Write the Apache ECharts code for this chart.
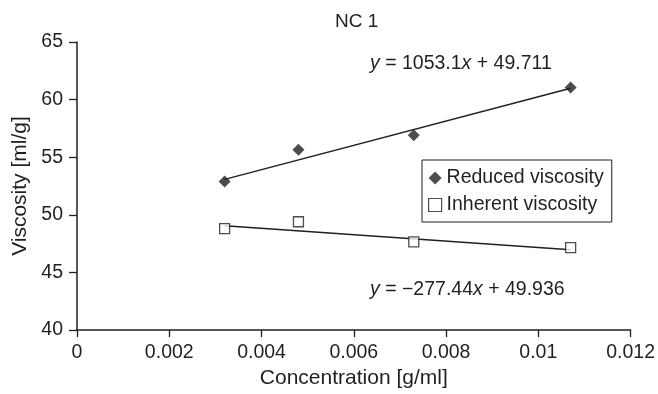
<!DOCTYPE html>
<html><head><meta charset="utf-8">
<script src="https://cdn.jsdelivr.net/npm/echarts@6/dist/echarts.min.js"></script>
<style>html,body{margin:0;padding:0;background:#fff}#c{width:658px;height:394px}</style>
</head><body><div id="c"></div>
<script>
const concentration = [0.0032, 0.0048, 0.0073, 0.0107];
const reducedViscosity = [52.9, 55.65, 56.9, 61.05];
const inherentViscosity = [48.8, 49.4, 47.65, 47.15];
const reducedTrend = [[0.0032, 53.08], [0.0107, 60.98]];
const inherentTrend = [[0.0032, 49.05], [0.0107, 46.97]];
const xTicks = [0, 0.002, 0.004, 0.006, 0.008, 0.01, 0.012];
const yTicks = [40, 45, 50, 55, 60, 65];
const eqReduced = ['1053.1', '49.711'];
const eqInherent = ['\u2212277.44', '49.936'];

const ink = '#231f20';
const font = '"Liberation Sans", Arial, Helvetica, sans-serif';
const chart = echarts.init(document.getElementById('c'));
const pair = (xs, ys) => xs.map((x, i) => [x, ys[i]]);
const eqText = (c) => '{i|y} = ' + c[0] + '{i|x} + ' + c[1];
const eqStyle = { fontSize: 19.5, fontFamily: font, fill: ink, rich: { i: { fontStyle: 'italic', fontSize: 19.5, fontFamily: font, fill: ink } } };

chart.setOption({
  backgroundColor: '#fff',
  animation: false,
  textStyle: { fontFamily: font, color: ink },
  title: { text: 'NC 1', left: 335, top: 12, padding: 0, textStyle: { fontSize: 19, fontWeight: 'normal', color: ink, fontFamily: font } },
  grid: { left: 77, right: 27, top: 42, bottom: 62 },
  legend: {
    orient: 'vertical', left: 422, top: 160,
    padding: [8, 8, 7, 6], itemGap: 7, itemWidth: 13, itemHeight: 13,
    borderColor: ink, borderWidth: 1, backgroundColor: '#fff',
    textStyle: { fontSize: 19.5, color: ink, fontFamily: font },
    data: [
      { name: 'Reduced viscosity', icon: 'diamond', itemStyle: { color: ink } },
      { name: 'Inherent viscosity', icon: 'rect', itemStyle: { color: '#fff', borderColor: ink, borderWidth: 1.2 } }
    ]
  },
  xAxis: {
    type: 'value', min: 0, max: 0.012, interval: 0.002,
    name: 'Concentration [g/ml]', nameLocation: 'middle', nameGap: 37,
    nameTextStyle: { fontSize: 21, color: ink, fontFamily: font },
    axisLine: { lineStyle: { color: ink, width: 1.5 } },
    axisTick: { show: true, length: 7, lineStyle: { color: ink, width: 1.3 } },
    axisLabel: { fontSize: 19.5, color: ink, fontFamily: font, margin: 13, formatter: v => xTicks.includes(+v.toFixed(3)) ? String(+v.toFixed(3)) : '' },
    splitLine: { show: false }
  },
  yAxis: {
    type: 'value', min: 40, max: 65, interval: 5,
    name: 'Viscosity [ml/g]', nameLocation: 'middle', nameGap: 43,
    nameTextStyle: { fontSize: 21, color: ink, fontFamily: font },
    axisLine: { show: true, lineStyle: { color: ink, width: 1.5 } },
    axisTick: { show: true, length: 8, lineStyle: { color: ink, width: 1.3 } },
    axisLabel: { fontSize: 19.5, color: ink, fontFamily: font, margin: 14, formatter: v => yTicks.includes(v) ? String(v) : '' },
    splitLine: { show: false }
  },
  series: [
    { name: 'Reduced trend', type: 'line', data: reducedTrend, symbol: 'none', lineStyle: { color: ink, width: 1.5 }, z: 2, legendHoverLink: false },
    { name: 'Inherent trend', type: 'line', data: inherentTrend, symbol: 'none', lineStyle: { color: ink, width: 1.5 }, z: 2, legendHoverLink: false },
    { name: 'Reduced viscosity', type: 'scatter', data: pair(concentration, reducedViscosity), symbol: 'diamond', symbolSize: 12, itemStyle: { color: ink }, z: 3 },
    { name: 'Inherent viscosity', type: 'scatter', data: pair(concentration, inherentViscosity), symbol: 'rect', symbolSize: 10, itemStyle: { color: '#fff', borderColor: ink, borderWidth: 1.3 }, z: 3 }
  ],
  graphic: [
    { type: 'text', left: 370, top: 54, style: Object.assign({ text: eqText(eqReduced) }, eqStyle) },
    { type: 'text', left: 370, top: 280, style: Object.assign({ text: eqText(eqInherent) }, eqStyle) }
  ]
});
</script></body></html>
